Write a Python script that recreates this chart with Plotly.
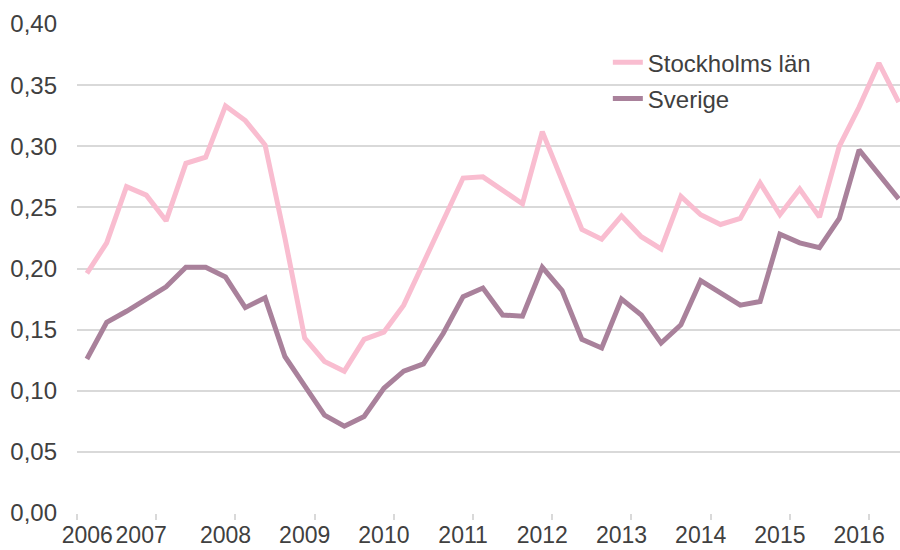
import plotly.graph_objects as go

# Quarterly values, 2006 Q1 .. 2016 Q2
quarters = [f"{y}Q{q}" for y in range(2006, 2017) for q in range(1, 5)][:42]

stockholm = [0.196, 0.221, 0.267, 0.260, 0.239, 0.286, 0.291, 0.333, 0.321, 0.301,
             0.225, 0.143, 0.124, 0.116, 0.142, 0.148, 0.170, 0.204, 0.240, 0.274,
             0.275, 0.264, 0.253, 0.312, 0.272, 0.232, 0.224, 0.243, 0.226, 0.216,
             0.259, 0.244, 0.236, 0.241, 0.270, 0.244, 0.265, 0.242, 0.300, 0.332,
             0.368, 0.336]

sverige = [0.126, 0.156, 0.165, 0.175, 0.185, 0.201, 0.201, 0.193, 0.168, 0.176,
           0.128, 0.104, 0.080, 0.071, 0.079, 0.102, 0.116, 0.122, 0.147, 0.177,
           0.184, 0.162, 0.161, 0.201, 0.182, 0.142, 0.135, 0.175, 0.162, 0.139,
           0.154, 0.190, 0.180, 0.170, 0.173, 0.228, 0.221, 0.217, 0.241, 0.297,
           0.277, 0.257]

year_labels = [str(y) for y in range(2006, 2017)]
y_ticks = [0.0, 0.05, 0.10, 0.15, 0.20, 0.25, 0.30, 0.35, 0.40]

# quarter midpoints in fractional years
def qpos(q):
    y, n = q.split("Q")
    return int(y) + (int(n) - 0.5) / 4

xs = [qpos(q) for q in quarters]
years = [int(y) for y in year_labels]
label_pos = [y - 0.125 for y in years]
label_pos[0] = years[0] + 0.13
label_pos[1] = years[1] - 0.19

PINK = "#F9BDD0"
PURPLE = "#A9819B"
TEXT = "#404040"
GRID = "#D9D9D9"
FONT = "Liberation Sans, Arial, sans-serif"
FS = 24

fig = go.Figure()
fig.add_trace(go.Scatter(x=xs, y=stockholm, mode="lines", name="Stockholms län",
                         line=dict(color=PINK, width=5), legendgroup="a"))
fig.add_trace(go.Scatter(x=xs, y=sverige, mode="lines", name="Sverige",
                         line=dict(color=PURPLE, width=5), legendgroup="b"))

fig.update_layout(
    width=900, height=550,
    margin=dict(l=77, r=0, t=24, b=37),
    paper_bgcolor="white", plot_bgcolor="white",
    font=dict(family=FONT, size=FS, color=TEXT),
    showlegend=True,
    legend=dict(x=0.645, y=0.967, xanchor="left", yanchor="top",
                bgcolor="rgba(0,0,0,0)", font=dict(size=FS, color=TEXT),
                tracegroupgap=2, traceorder="grouped"),
)
fig.update_xaxes(
    automargin=False,
    range=[2006, 2006 + 823 / 79.2],
    tickvals=label_pos, ticktext=year_labels, ticks="", showgrid=False,
    showline=False, zeroline=False, ticklabelstandoff=6, tickangle=0,
    minor=dict(tickvals=years, ticks="outside", ticklen=6, tickcolor=GRID,
               tickwidth=1.5, showgrid=False),
    tickfont=dict(size=23, color=TEXT),
)
fig.update_yaxes(
    automargin=False,
    range=[0, 0.40], tickvals=y_ticks,
    ticktext=[f"{v:.2f}".replace(".", ",") for v in y_ticks],
    showgrid=True, gridcolor=GRID, gridwidth=1.5, zeroline=False,
    showline=False, ticks="", ticklabelstandoff=19,
    tickfont=dict(size=FS, color=TEXT),
)

fig.write_html("out.html", config={"displayModeBar": False},
               post_script="document.body.style.margin='0';document.body.style.overflow='hidden';")
